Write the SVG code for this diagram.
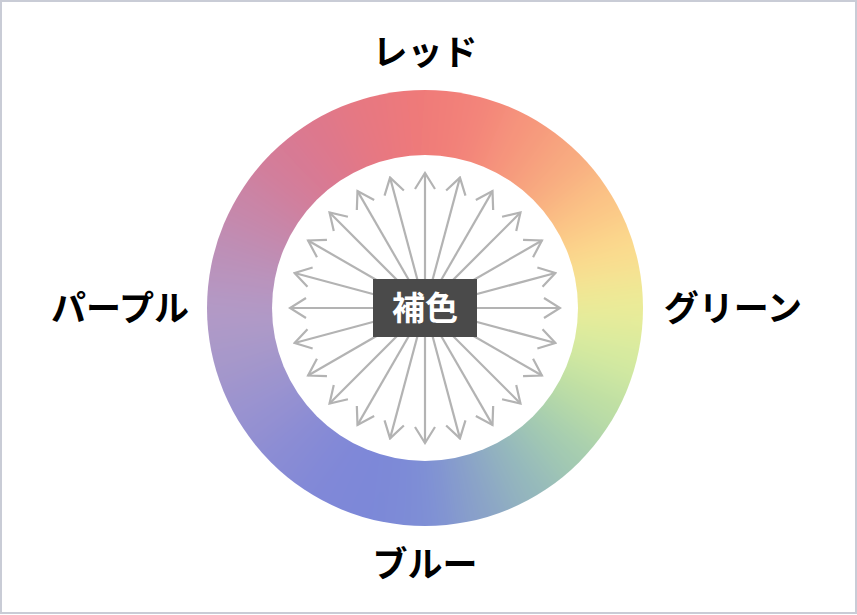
<svg xmlns="http://www.w3.org/2000/svg" xmlns:xlink="http://www.w3.org/1999/xlink" width="857" height="615" viewBox="0 0 857 615">
  <style>
    .lbl { font-family: "Noto Sans CJK JP", "Noto Sans", sans-serif; font-weight: 700; font-size: 35px; fill: #000000; text-anchor: middle; }
    .ctr { font-family: "Noto Sans CJK JP", "Noto Sans", sans-serif; font-weight: 700; font-size: 33px; fill: #ffffff; text-anchor: middle; }
    .arr { stroke: #b3b3b3; stroke-width: 2.2; fill: none; marker-end: url(#head); }
  </style>
  <defs>
    <marker id="head" viewBox="-18 -12 20 24" refX="0" refY="0" markerWidth="20" markerHeight="24" markerUnits="userSpaceOnUse" orient="auto">
      <path d="M-16,-10 L0,0 L-16,10" fill="none" stroke="#b3b3b3" stroke-width="2.2"/>
    </marker>
    <polygon id="w" points="425,308 383.25,10.92 466.75,10.92"/>
    <filter id="blur" filterUnits="userSpaceOnUse" x="0" y="-50" width="857" height="720">
      <feGaussianBlur stdDeviation="20"/>
    </filter>
    <clipPath id="outer">
      <circle cx="425" cy="308" r="218"/>
    </clipPath>
  </defs>

  <rect x="1" y="1" width="855" height="612" fill="#ffffff" stroke="#c9ccd6" stroke-width="2"/>

  <g id="ring" clip-path="url(#outer)">
    <g filter="url(#blur)">
      <use xlink:href="#w" fill="#f07a78" transform="rotate(0 425 308)"/>
      <use xlink:href="#w" fill="#f3837a" transform="rotate(15 425 308)"/>
      <use xlink:href="#w" fill="#f6967c" transform="rotate(30 425 308)"/>
      <use xlink:href="#w" fill="#f8aa80" transform="rotate(45 425 308)"/>
      <use xlink:href="#w" fill="#fbc486" transform="rotate(60 425 308)"/>
      <use xlink:href="#w" fill="#fbdc8e" transform="rotate(75 425 308)"/>
      <use xlink:href="#w" fill="#eaec98" transform="rotate(90 425 308)"/>
      <use xlink:href="#w" fill="#d4eaa0" transform="rotate(105 425 308)"/>
      <use xlink:href="#w" fill="#bcdea4" transform="rotate(120 425 308)"/>
      <use xlink:href="#w" fill="#a4ccb0" transform="rotate(135 425 308)"/>
      <use xlink:href="#w" fill="#94b8bc" transform="rotate(150 425 308)"/>
      <use xlink:href="#w" fill="#8aa2c8" transform="rotate(165 425 308)"/>
      <use xlink:href="#w" fill="#7e8ed6" transform="rotate(180 425 308)"/>
      <use xlink:href="#w" fill="#7c88d8" transform="rotate(195 425 308)"/>
      <use xlink:href="#w" fill="#8088d8" transform="rotate(210 425 308)"/>
      <use xlink:href="#w" fill="#8a8cd4" transform="rotate(225 425 308)"/>
      <use xlink:href="#w" fill="#9892d0" transform="rotate(240 425 308)"/>
      <use xlink:href="#w" fill="#a698ca" transform="rotate(255 425 308)"/>
      <use xlink:href="#w" fill="#b29ac6" transform="rotate(270 425 308)"/>
      <use xlink:href="#w" fill="#bc90b8" transform="rotate(285 425 308)"/>
      <use xlink:href="#w" fill="#c886a8" transform="rotate(300 425 308)"/>
      <use xlink:href="#w" fill="#d47c98" transform="rotate(315 425 308)"/>
      <use xlink:href="#w" fill="#de788c" transform="rotate(330 425 308)"/>
      <use xlink:href="#w" fill="#e87880" transform="rotate(345 425 308)"/>
    </g>
  </g>
  <circle cx="425" cy="308" r="153" fill="#ffffff"/>

  <g id="connectors">
    <line class="arr" x1="425" y1="308" x2="425" y2="173" transform="rotate(0 425 308)"/>
    <line class="arr" x1="425" y1="308" x2="425" y2="173" transform="rotate(15 425 308)"/>
    <line class="arr" x1="425" y1="308" x2="425" y2="173" transform="rotate(30 425 308)"/>
    <line class="arr" x1="425" y1="308" x2="425" y2="173" transform="rotate(45 425 308)"/>
    <line class="arr" x1="425" y1="308" x2="425" y2="173" transform="rotate(60 425 308)"/>
    <line class="arr" x1="425" y1="308" x2="425" y2="173" transform="rotate(75 425 308)"/>
    <line class="arr" x1="425" y1="308" x2="425" y2="173" transform="rotate(90 425 308)"/>
    <line class="arr" x1="425" y1="308" x2="425" y2="173" transform="rotate(105 425 308)"/>
    <line class="arr" x1="425" y1="308" x2="425" y2="173" transform="rotate(120 425 308)"/>
    <line class="arr" x1="425" y1="308" x2="425" y2="173" transform="rotate(135 425 308)"/>
    <line class="arr" x1="425" y1="308" x2="425" y2="173" transform="rotate(150 425 308)"/>
    <line class="arr" x1="425" y1="308" x2="425" y2="173" transform="rotate(165 425 308)"/>
    <line class="arr" x1="425" y1="308" x2="425" y2="173" transform="rotate(180 425 308)"/>
    <line class="arr" x1="425" y1="308" x2="425" y2="173" transform="rotate(195 425 308)"/>
    <line class="arr" x1="425" y1="308" x2="425" y2="173" transform="rotate(210 425 308)"/>
    <line class="arr" x1="425" y1="308" x2="425" y2="173" transform="rotate(225 425 308)"/>
    <line class="arr" x1="425" y1="308" x2="425" y2="173" transform="rotate(240 425 308)"/>
    <line class="arr" x1="425" y1="308" x2="425" y2="173" transform="rotate(255 425 308)"/>
    <line class="arr" x1="425" y1="308" x2="425" y2="173" transform="rotate(270 425 308)"/>
    <line class="arr" x1="425" y1="308" x2="425" y2="173" transform="rotate(285 425 308)"/>
    <line class="arr" x1="425" y1="308" x2="425" y2="173" transform="rotate(300 425 308)"/>
    <line class="arr" x1="425" y1="308" x2="425" y2="173" transform="rotate(315 425 308)"/>
    <line class="arr" x1="425" y1="308" x2="425" y2="173" transform="rotate(330 425 308)"/>
    <line class="arr" x1="425" y1="308" x2="425" y2="173" transform="rotate(345 425 308)"/>
  </g>

  <g id="center">
    <rect x="373" y="279" width="104" height="58" fill="#4a4a4a"/>
    <text class="ctr" x="425" y="320">補色</text>
  </g>

  <g id="red"><text class="lbl" x="425" y="65">レッド</text></g>
  <g id="green"><text class="lbl" x="733" y="321">グリーン</text></g>
  <g id="blue"><text class="lbl" x="425" y="577">ブルー</text></g>
  <g id="purple"><text class="lbl" x="120" y="321">パープル</text></g>
</svg>
